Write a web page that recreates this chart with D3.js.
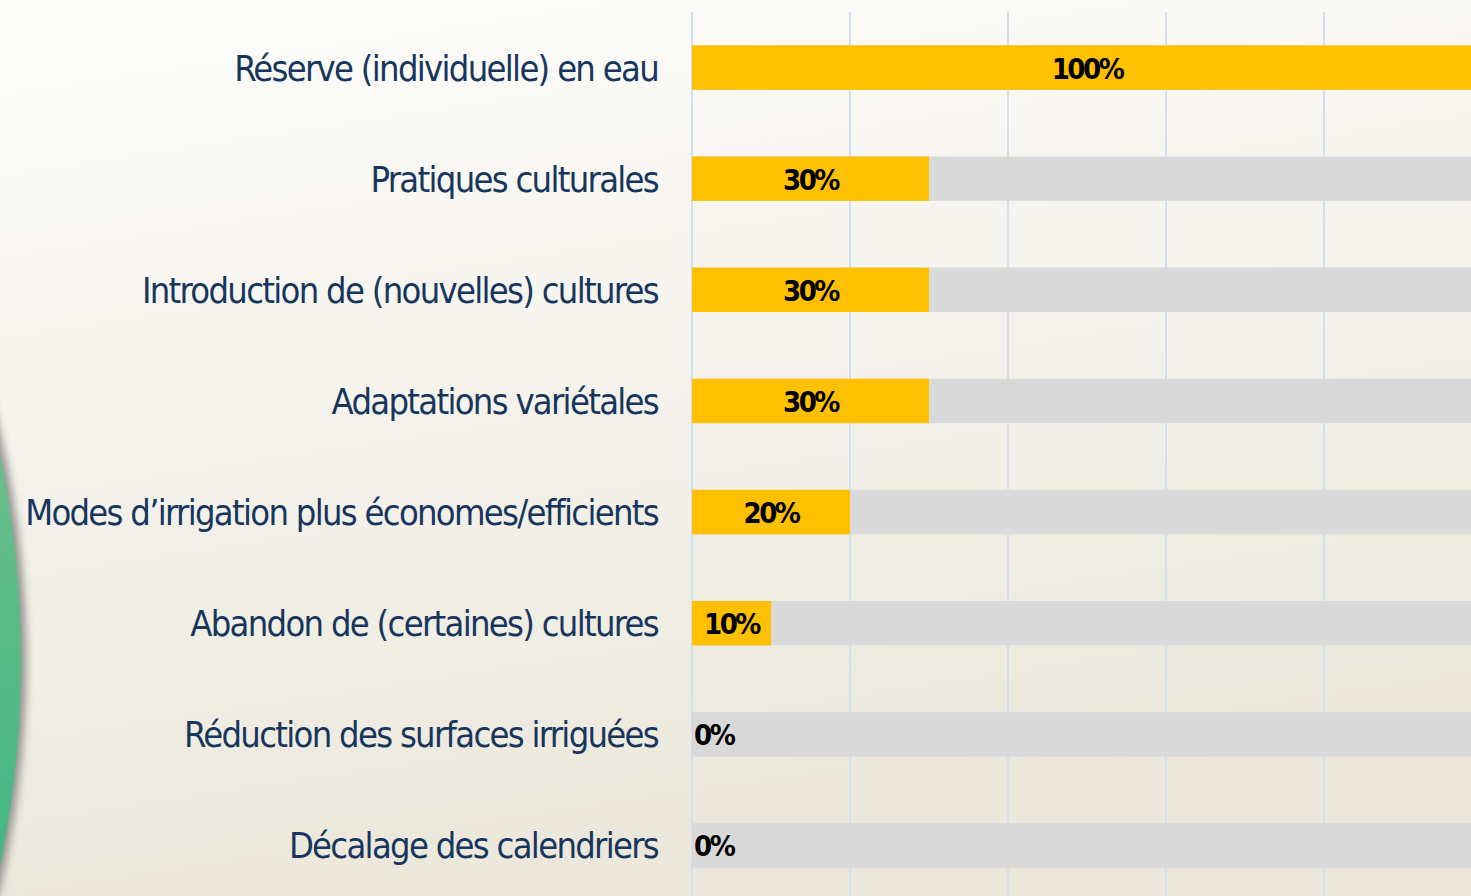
<!DOCTYPE html>
<html>
<head>
	<script src="https://cdnjs.cloudflare.com/ajax/libs/d3/7.8.2/d3.min.js"></script>
	<style>
		body { margin: 0 ; overflow: hidden ; }
		svg { display: block ; }
	</style>
</head>
<body>
	<svg id="canvas"></svg>
</body>
<script>
	// categories and their shares (percent)
	let categories = [
		"Réserve (individuelle) en eau",
		"Pratiques culturales",
		"Introduction de (nouvelles) cultures",
		"Adaptations variétales",
		"Modes d’irrigation plus économes/efficients",
		"Abandon de (certaines) cultures",
		"Réduction des surfaces irriguées",
		"Décalage des calendriers"
	] ;
	let values = [ 100, 30, 30, 30, 20, 10, 0, 0 ] ;
	let gridTicks = [ 0, 20, 40, 60, 80, 100 ] ;

	let geom = {
		width: 1471,
		height: 896,
		left: 692,
		right: 1482,
		top: 12,
		bottom: 901
	} ;

	let svg = d3.select( 'svg' )
		.attr( 'width', geom.width )
		.attr( 'height', geom.height ) ;

	let defs = svg.append( 'defs' ) ;
	let bg = defs.append( 'linearGradient' )
		.attr( 'id', 'bg' )
		.attr( 'x1', '0' ).attr( 'y1', '0' )
		.attr( 'x2', '0.25' ).attr( 'y2', '1' ) ;
	bg.append( 'stop' ).attr( 'offset', '0' ).attr( 'stop-color', '#fdfdfc' ) ;
	bg.append( 'stop' ).attr( 'offset', '1' ).attr( 'stop-color', '#ebe7da' ) ;

	let green = defs.append( 'linearGradient' )
		.attr( 'id', 'green' )
		.attr( 'x1', '0' ).attr( 'y1', '0' )
		.attr( 'x2', '0' ).attr( 'y2', '1' ) ;
	green.append( 'stop' ).attr( 'offset', '0.3' ).attr( 'stop-color', '#7cc290' ) ;
	green.append( 'stop' ).attr( 'offset', '0.85' ).attr( 'stop-color', '#15ad78' ) ;

	let blur = defs.append( 'filter' ).attr( 'id', 'shadow' )
		.attr( 'x', '-10%' ).attr( 'width', '130%' ) ;
	blur.append( 'feGaussianBlur' ).attr( 'stdDeviation', 4 ) ;

	svg.append( 'rect' )
		.attr( 'width', geom.width )
		.attr( 'height', geom.height )
		.attr( 'fill', 'url(#bg)' ) ;

	// decorative circle on the left edge
	svg.append( 'circle' )
		.attr( 'cx', -990 ).attr( 'cy', 660 ).attr( 'r', 1016 )
		.attr( 'fill', '#6b6b6b' )
		.attr( 'opacity', 0.7 )
		.attr( 'filter', 'url(#shadow)' ) ;
	svg.append( 'circle' )
		.attr( 'cx', -992 ).attr( 'cy', 660 ).attr( 'r', 1013 )
		.attr( 'fill', 'url(#green)' ) ;

	let x = d3.scaleLinear()
		.domain( [ 0, 100 ] )
		.range( [ geom.left, geom.right ] ) ;

	let y = d3.scaleBand()
		.domain( categories )
		.range( [ 12, 901 ] )
		.paddingInner( 0.6 )
		.paddingOuter( 0.3 ) ;

	// vertical gridlines
	svg.append( 'g' )
		.selectAll( 'line' )
		.data( gridTicks )
		.join( 'line' )
		.attr( 'x1', d => x(d) ).attr( 'x2', d => x(d) )
		.attr( 'y1', geom.top ).attr( 'y2', geom.height )
		.attr( 'stroke', '#cfe0f3' )
		.attr( 'stroke-width', 2 ) ;

	let rows = svg.append( 'g' )
		.selectAll( 'g' )
		.data( categories )
		.join( 'g' ) ;

	rows.append( 'rect' )
		.attr( 'x', x(0) )
		.attr( 'y', d => y(d) )
		.attr( 'width', x(100) - x(0) )
		.attr( 'height', y.bandwidth() )
		.attr( 'fill', '#d9d9d9' ) ;

	rows.append( 'rect' )
		.attr( 'x', x(0) )
		.attr( 'y', d => y(d) )
		.attr( 'width', (d, i) => x(values[i]) - x(0) )
		.attr( 'height', y.bandwidth() )
		.attr( 'fill', '#ffc000' ) ;

	rows.append( 'text' )
		.attr( 'x', (d, i) => values[i] > 0 ? ( x(values[i]) + x(0) ) / 2 : x(0) + 2 )
		.attr( 'y', d => y(d) + y.bandwidth() / 2 )
		.attr( 'dy', '0.38em' )
		.attr( 'text-anchor', (d, i) => values[i] > 0 ? 'middle' : 'start' )
		.style( 'font-family', '"DejaVu Sans Condensed", "DejaVu Sans", sans-serif' )
		.style( 'font-stretch', 'condensed' )
		.style( 'font-weight', 'bold' )
		.style( 'font-size', '29px' )
		.style( 'letter-spacing', '-2.5px' )
		.attr( 'fill', '#000' )
		.text( (d, i) => values[i] + '%' ) ;

	// category labels
	rows.append( 'text' )
		.attr( 'x', 658 )
		.attr( 'y', d => y(d) + y.bandwidth() / 2 )
		.attr( 'dy', '0.36em' )
		.attr( 'text-anchor', 'end' )
		.style( 'font-family', '"DejaVu Sans Condensed", "DejaVu Sans", sans-serif' )
		.style( 'font-stretch', 'condensed' )
		.style( 'font-size', '36px' )
		.style( 'letter-spacing', '-1.7px' )
		.attr( 'fill', '#17365d' )
		.text( d => d ) ;
</script>
</html>
